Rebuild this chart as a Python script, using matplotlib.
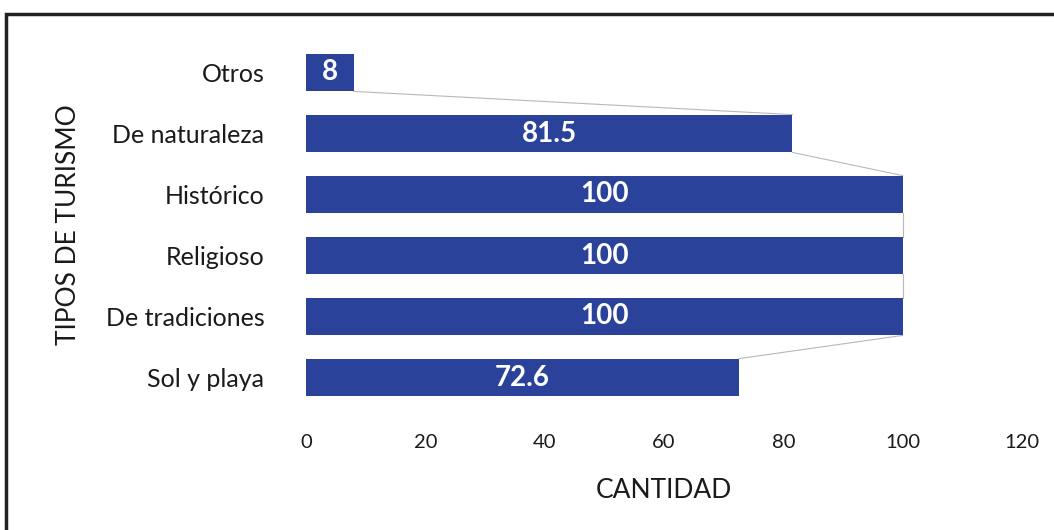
import matplotlib
matplotlib.use("Agg")
import matplotlib.pyplot as plt
from matplotlib.patches import Rectangle

categories = ["Sol y playa", "De tradiciones", "Religioso", "Histórico", "De naturaleza", "Otros"]
values = [72.6, 100, 100, 100, 81.5, 8]
value_labels = ["72.6", "100", "100", "100", "81.5", "8"]
xticks = [0, 20, 40, 60, 80, 100, 120]

plt.rcParams['font.family'] = ['Lato', 'DejaVu Sans']

W, H = 1054, 530
fig = plt.figure(figsize=(W / 100, H / 100), dpi=100)
ax = fig.add_axes([306 / W, 1 - 408 / H, (1022 - 306) / W, (408 - 42) / H])

bar_color = "#2a4299"
bh = 0.62
ypos = list(range(len(categories)))
ax.barh(ypos, values, height=bh, color=bar_color, edgecolor="none")

# series (connector) lines
for i in range(len(values) - 1):
    ax.plot([values[i], values[i + 1]], [i + bh / 2, i + 1 - bh / 2],
            color="#b8b8b8", lw=0.8, zorder=0.5)

for y, v, lab in zip(ypos, values, value_labels):
    ax.text(v / 2, y, lab, color="white", fontsize=20, fontweight="bold",
            ha="center", va="center")

ax.set_xlim(0, 120)
ax.set_ylim(-0.5, len(categories) - 0.5)
ax.set_xticks(xticks)
ax.set_xticklabels([str(t) for t in xticks])
ax.set_yticks(ypos)
ax.set_yticklabels(categories)
ax.tick_params(axis="x", length=0, pad=19, labelsize=14.5, labelcolor="#1a1a1a")
ax.tick_params(axis="y", length=0, pad=30, labelsize=18, labelcolor="#1a1a1a")
for s in ax.spines.values():
    s.set_visible(False)

ax.set_xlabel("CANTIDAD", fontsize=19, color="#1a1a1a", labelpad=19)
fig.text(68 / W, 1 - 225 / H, "TIPOS DE TURISMO", rotation=90, fontsize=19,
         color="#1a1a1a", ha="center", va="center")

# outer border
fig.patches.append(Rectangle((6 / W, -0.05), 1.1, 1 - 14 / H + 0.05,
                             transform=fig.transFigure, fill=False,
                             edgecolor="#222222", lw=2.5))

fig.savefig("out.png", dpi=100, facecolor="white")
